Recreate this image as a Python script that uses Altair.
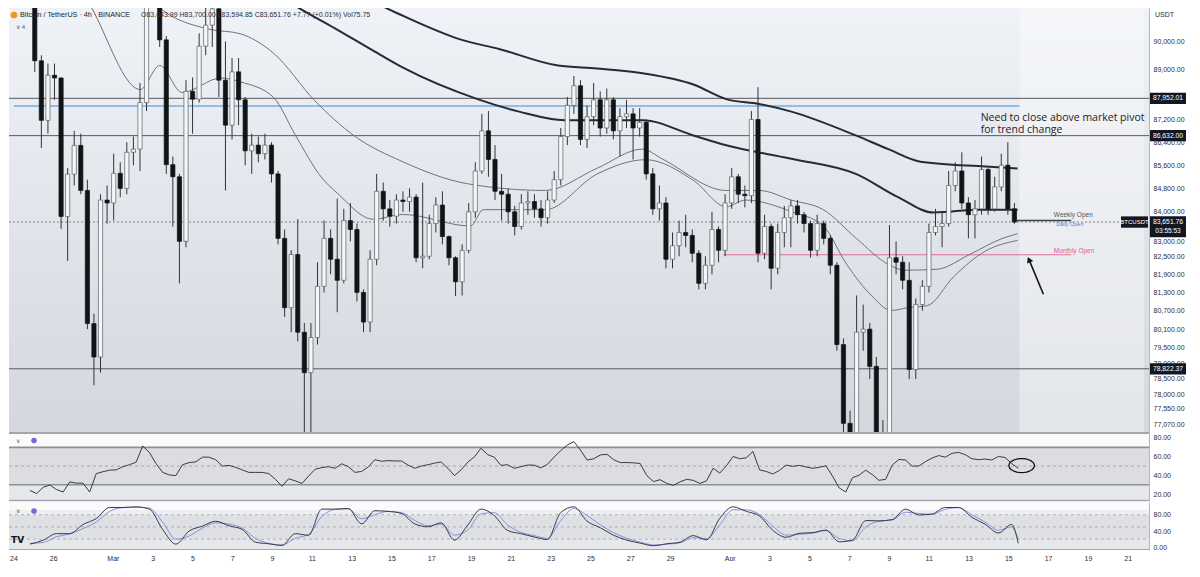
import math
import altair as alt
import pandas as pd

# ---------------- data ----------------
# 8h candles, first one centred on Feb 24 20:00; day offsets counted from Feb 24 00:00
opens = [92400, 89300, 87170, 88780, 88680, 83840, 85290, 86290, 84730, 80280,
         79200, 84400, 84300, 85320, 84800, 86050, 86160, 87800, 93500, 94200,
         90060, 85620, 85200, 83000, 88200, 87920, 89830, 90600, 91200, 88600,
         87000, 88900, 87900, 86100, 86300, 86000, 86300, 85300, 83100, 80800,
         82560, 80000, 78700, 79830, 81500, 83100, 82400, 81700, 83700, 83400,
         81300, 80330, 82400, 84700, 84100, 83850, 84400, 84350, 84500, 82450,
         82500, 83600, 84230, 83160, 82450, 81650, 82700, 84000, 85400, 86800,
         85800, 84700, 84600, 84000, 83500, 84300, 84350, 84100, 83800, 84400,
         85100, 86600, 87700, 88400, 86500, 87300, 87900, 86900, 87900, 86800,
         87300, 87400, 86900, 87100, 85300, 84100, 84300, 82400, 82850, 83300,
         83200, 82600, 81600, 82200, 83400, 82700, 84300, 85200, 84600, 84550,
         87200, 82600, 83500, 82100, 83300, 83800, 84200, 83900, 83600, 82700,
         83600, 83100, 82200, 79600, 77100, 76000, 80000, 80100, 78900, 76600,
         76200, 82450, 82300, 81700, 78800, 80900, 81500, 83300, 83500, 83600,
         84900, 85400, 84300, 83900, 84100, 85450, 84100, 84850, 85600, 84100]
highs = [92700, 89500, 89200, 89200, 88700, 85500, 86800, 86700, 85100, 80600,
         84600, 84900, 86000, 85700, 86400, 86600, 88500, 94000, 95000, 94400,
         90200, 85900, 85300, 88600, 88700, 90300, 91500, 91800, 92000, 90000,
         89400, 89400, 88000, 86700, 86600, 86700, 86400, 85400, 83400, 82700,
         83750, 80300, 80300, 82300, 83700, 83400, 84450, 84100, 84300, 83600,
         81400, 82700, 85300, 85000, 84400, 84600, 84700, 84800, 84600, 85000,
         83900, 84500, 84700, 83200, 82500, 82900, 84300, 85700, 87400, 87500,
         86300, 85300, 84800, 84200, 84600, 84700, 84600, 84400, 84700, 85400,
         86900, 88000, 88750, 88600, 87700, 88500, 88200, 88300, 88000, 87600,
         87900, 87600, 87600, 87200, 85500, 84900, 84500, 83300, 83700, 83900,
         83400, 82700, 82500, 84000, 83500, 84600, 85500, 85300, 84900, 87500,
         88350, 83900, 83600, 83600, 84200, 84400, 84400, 84000, 83700, 83900,
         83700, 83200, 82300, 79800, 77500, 81200, 80900, 80300, 79200, 77200,
         83550, 83000, 82500, 82300, 81100, 81700, 83600, 84100, 84000, 85400,
         85700, 86050, 84500, 84400, 85900, 85500, 85200, 86000, 86400, 84300]
lows = [88900, 86200, 86700, 87900, 83420, 82350, 84900, 84600, 80100, 78300,
        78700, 83600, 83700, 84500, 84600, 85600, 85400, 87500, 92500, 89800,
        85300, 83500, 81600, 82800, 86700, 87800, 89500, 89800, 88000, 84730,
        86500, 87000, 85600, 85300, 85700, 85800, 85000, 82900, 80500, 80000,
        79700, 76600, 76800, 79600, 81300, 81900, 80650, 81600, 83000, 81000,
        80000, 80000, 82200, 83700, 83500, 83600, 84000, 84000, 82300, 82100,
        82400, 83300, 82900, 82200, 81180, 81200, 82600, 83800, 85300, 85200,
        84400, 83700, 83600, 83200, 83400, 83900, 83800, 83500, 83600, 84300,
        84900, 86300, 87400, 86300, 86200, 87000, 86600, 86700, 86500, 85900,
        86900, 85800, 86600, 85100, 83900, 83700, 82100, 82100, 82500, 82800,
        82300, 81400, 81400, 81900, 82300, 82500, 84100, 84300, 84150, 84300,
        82300, 82400, 81400, 81900, 82800, 82800, 83600, 83300, 82450, 82500,
        82900, 81900, 79400, 76700, 74500, 75800, 79400, 78500, 76300, 75800,
        74600, 81900, 81400, 78500, 78500, 80700, 81300, 83200, 82800, 83500,
        84700, 84100, 83100, 83100, 83900, 83900, 84000, 84700, 83900, 83594.85]
closes = [89300, 87170, 88780, 88680, 83840, 85290, 86290, 84730, 80280, 79200,
          84400, 84300, 85320, 84800, 86050, 86160, 87800, 93500, 94200, 90060,
          85620, 85200, 83000, 88200, 87920, 89830, 90600, 91200, 88600, 87000,
          88900, 87900, 86100, 86300, 86000, 86300, 85300, 83100, 80800, 82560,
          80000, 78700, 79830, 81500, 83100, 82400, 81700, 83700, 83400, 81300,
          80330, 82400, 84700, 84100, 83850, 84400, 84350, 84500, 82450, 82500,
          83600, 84230, 83160, 82450, 81650, 82700, 84000, 85400, 86800, 85800,
          84700, 84600, 84000, 83500, 84300, 84350, 84100, 83800, 84400, 85100,
          86600, 87700, 88400, 86500, 87300, 87900, 86900, 87900, 86800, 87300,
          87400, 86900, 87100, 85300, 84100, 84300, 82400, 82850, 83300, 83200,
          82600, 81600, 82200, 83400, 82700, 84300, 85200, 84600, 84550, 87200,
          82600, 83500, 82100, 83300, 83800, 84200, 83900, 83600, 82700, 83600,
          83100, 82200, 79600, 77100, 76000, 80000, 80100, 78900, 76600, 76200,
          82450, 82300, 81700, 78800, 80900, 81500, 83300, 83500, 83600, 84900,
          85400, 84300, 83900, 84100, 85450, 84100, 84850, 85600, 84100, 83651.76]

rsi = [23.9, 20.5, 27.3, 29.7, 24.9, 22.2, 33.0, 31.7, 31.7, 22.2,
       41.9, 43.9, 45.6, 45.9, 49.3, 51.4, 54.1, 71.4, 64.6, 52.7,
       43.2, 40.5, 39.8, 51.4, 53.7, 54.4, 59.5, 59.5, 56.8, 50.0,
       50.7, 48.6, 45.9, 43.2, 43.2, 43.2, 41.9, 35.8, 28.3, 36.4,
       34.1, 31.4, 39.2, 46.6, 48.3, 49.3, 47.6, 52.4, 49.3, 43.2,
       44.2, 49.0, 56.8, 55.1, 55.8, 55.4, 55.4, 51.0, 47.6, 50.0,
       51.4, 53.1, 54.4, 47.6, 39.8, 45.9, 54.1, 59.8, 69.0, 62.2,
       59.5, 50.7, 51.4, 47.6, 49.3, 51.0, 51.0, 48.0, 51.7, 59.5,
       66.3, 72.4, 76.1, 67.0, 56.4, 57.8, 61.9, 62.5, 56.8, 53.7,
       53.7, 53.4, 52.7, 39.8, 33.4, 35.4, 31.4, 29.3, 33.0, 35.8,
       34.7, 31.4, 34.1, 47.6, 42.5, 50.3, 60.2, 57.8, 58.8, 65.6,
       45.9, 44.2, 41.5, 45.3, 51.0, 49.7, 50.7, 49.0, 47.6, 48.6,
       50.3, 39.2, 26.6, 22.2, 37.5, 40.2, 45.6, 40.8, 34.7, 35.8,
       51.0, 57.1, 56.4, 50.0, 50.0, 54.7, 58.5, 61.2, 59.5, 63.6,
       64.6, 62.2, 57.8, 56.8, 57.5, 56.4, 60.2, 59.2, 52.7, 47.6]

stoch_idx = list(range(0, 150, 2)) + [149]
stoch_k = [8.0, 17.6, 33.6, 33.6, 56.0, 70.4, 97.6, 97.6, 99.2, 93.6,
           44.0, 8.0, 40.0, 52.0, 64.0, 52.8, 44.0, 12.8, 8.8, 4.8,
           33.6, 29.6, 93.6, 93.6, 95.2, 57.6, 89.6, 88.0, 83.2, 57.6,
           50.4, 60.0, 17.6, 54.4, 93.6, 77.6, 41.6, 33.6, 25.6, 19.2,
           84.8, 99.2, 64.0, 48.0, 29.6, 17.6, 10.4, 4.0, 8.8, 12.8,
           28.8, 18.4, 71.2, 99.2, 88.0, 76.8, 41.6, 24.8, 34.4, 36.0,
           42.4, 13.6, 17.6, 65.6, 64.8, 68.0, 93.6, 79.2, 81.6, 97.6,
           97.6, 73.6, 56.8, 35.2, 56.0, 10.0]
stoch_d = [10, 12, 26, 33, 46, 62, 88, 97, 98, 96,
           62, 20, 28, 47, 60, 57, 47, 22, 10, 6,
           22, 32, 75, 93, 94, 70, 80, 88, 85, 66,
           53, 57, 30, 42, 82, 85, 55, 37, 29, 22,
           65, 95, 78, 55, 36, 22, 13, 6, 8, 11,
           24, 21, 55, 92, 92, 80, 52, 30, 32, 35,
           41, 22, 16, 50, 64, 67, 86, 83, 81, 93,
           97, 80, 62, 42, 50, 20]

# moving averages (day offset, price)
ma_a_day = [17.51, 18.64, 19.48, 22.44, 24.41, 27.36, 29.33, 31.65, 34.26, 35.89, 37.56, 39.19, 42.49, 44.11, 45.74, 49.04, 50.66]
ma_a = [91740, 91235, 90950, 90070, 89720, 89128, 89024, 88850, 88437, 87922, 87751, 87478, 86630, 86160, 85724, 85557, 85490]
ma_b_day = [13.08, 14.21, 16.03, 17.86, 19.48, 23.28, 25.39, 27.71, 31.65, 34.26, 35.89, 39.19, 42.49, 44.60, 46.42, 48.70, 50.66]
ma_b = [91740, 91235, 90491, 89720, 89058, 87922, 87478, 87172, 87172, 86630, 86293, 85824, 85291, 84498, 83974, 84072, 84072]
ema_c_day = [3.3, 3.72, 6.18, 7.17, 8.30, 10.27, 11.26, 12.93, 14.06, 15.39, 16.18, 18.00, 19.48, 22.93, 23.57, 26.72, 29.33,
             31.80, 34.26, 35.89, 36.87, 39.19, 40.81, 42.00, 43.28, 44.26, 45.10, 46.08, 47.41, 49.04, 50.66]
ema_c = [91800, 91235, 88265, 89128, 88162, 88678, 88540, 87990, 86630, 85160, 84630, 83746, 83909, 83518, 84072, 84072, 85291,
         85791, 85059, 84170, 84400, 84007, 83518, 82227, 81178, 80706, 80800, 80863, 81813, 82677, 83031]
ema_d_day = [6.5, 7.17, 9.63, 11.26, 12.93, 15.05, 17.02, 19.48, 22.78, 26.72, 29.33, 31.65, 32.63, 35.89, 37.56, 39.19, 40.81,
             42.49, 44.11, 44.95, 46.58, 48.20, 49.88, 50.66]
ema_d = [91700, 91235, 90456, 90281, 89580, 87853, 86630, 85724, 84959, 84729, 85491, 86160, 85824, 84729, 84729, 84400, 84072,
         83096, 82227, 82035, 82067, 82548, 83096, 83258]

price_ticks = [90000, 89000, 87200, 86400, 85600, 84800, 84000, 83000, 82500, 81900,
               81300, 80700, 80100, 79500, 79000, 78500, 78000, 77550, 77070]
tick_days = [0, 2, 5, 7, 9, 11, 13, 15, 17, 19, 21, 23, 25, 27, 29, 31, 33, 36, 38, 40, 42, 44, 46, 48, 50, 52, 54, 56]
tick_labels = ['24', '26', 'Mar', '3', '5', '7', '9', '11', '13', '15', '17', '19', '21', '23', '25', '27', '29',
               'Apr', '3', '5', '7', '9', '11', '13', '15', '17', '19', '21']

level_prices = [87952.01, 86632.00, 78822.37]
pivot_blue = 87680
last_price = 83651.76
weekly_open = 83700
monthly_open = 82550
tag_prices = [87952.01, 86632.00, 83651.76, 78822.37]
tag_texts = ['87,952.01', '86,632.00', '83,651.76', '78,822.37']

# ---------------- layout ----------------
W, H1, H2, H3 = 1140, 424, 69, 48
X0, X1 = -0.22, 57.07
PLO, PHI = 76830, 91230
FONT = 'Liberation Sans'

xsc = alt.Scale(domain=[X0, X1], nice=False, zero=False)
psc = alt.Scale(type='log', domain=[PLO, PHI], nice=False)
rsc = alt.Scale(domain=[12.6, 86.4], nice=False, zero=False)
ssc = alt.Scale(domain=[-6.4, 111], nice=False, zero=False)

def yaxis(vals):
    return alt.Axis(orient='right', values=vals, format=',.2f', labelFontSize=7, labelFont=FONT,
                    labelColor='#2a2e39', ticks=False, domain=True, domainColor='#b4b7bd',
                    grid=False, labelPadding=4, title=None, labelOverlap=False)

paxis = yaxis(price_ticks)
raxis = yaxis([80, 60, 40, 20])
saxis = yaxis([80, 40, 0])

lab_expr = "[" + ",".join(f"'{t}'" for t in tick_labels) + "][indexof([" + ",".join(str(d) for d in tick_days) + "], datum.value)]"
xaxis = alt.Axis(values=tick_days, labelExpr=lab_expr, labelFontSize=7, labelFont=FONT, labelColor='#2a2e39',
                 ticks=False, domain=False, grid=False, labelPadding=4, title=None)

def X(field, axis=None):
    if axis is None:
        return alt.X(f'{field}:Q', scale=xsc, axis=None)
    return alt.X(f'{field}:Q', scale=xsc, axis=axis)

def PY(field):
    return alt.Y(f'{field}:Q', scale=psc, axis=paxis)

def RY(field):
    return alt.Y(f'{field}:Q', scale=rsc, axis=raxis)

def SY(field):
    return alt.Y(f'{field}:Q', scale=ssc, axis=saxis)

days = [0.8333 + i / 3 for i in range(len(closes))]
candles = pd.DataFrame({'day': days, 'open': opens, 'high': highs, 'low': lows, 'close': closes})
candles['dir'] = ['up' if c >= o else 'down' for o, c in zip(opens, closes)]

one = pd.DataFrame({'a': [0]})

def ptext(txt, x, y, size=7.5, color='#1f2329', weight='normal', align='left', font=FONT):
    return alt.Chart(pd.DataFrame({'t': [txt]})).mark_text(
        align=align, baseline='middle', fontSize=size, font=font, color=color, fontWeight=weight
    ).encode(x=alt.value(x), y=alt.value(y), text='t:N')

# ---------------- price pane ----------------
bg = alt.Chart(one).mark_rect(color=alt.Gradient(
    gradient='linear', x1=0, x2=0, y1=0, y2=1,
    stops=[alt.GradientStop(color='#eff2f7', offset=0), alt.GradientStop(color='#d4d8de', offset=1)]
)).encode(x=alt.value(0), x2=alt.value(W), y=alt.value(0), y2=alt.value(H1))

future = alt.Chart(pd.DataFrame({'d0': [50.76], 'd1': [X1]})).mark_rect(color='white', opacity=0.35).encode(
    x=X('d0'), x2='d1', y=alt.value(0), y2=alt.value(H1))

levels = alt.Chart(pd.DataFrame({'p': level_prices})).mark_rule(color='#555a63', strokeWidth=1, clip=True).encode(
    y=PY('p'), x=alt.value(0), x2=alt.value(W))

blue = alt.Chart(pd.DataFrame({'p': [pivot_blue], 'd0': [X0], 'd1': [50.76]})).mark_rule(
    color='#76aee3', strokeWidth=1.6, clip=True).encode(y=PY('p'), x=X('d0'), x2='d1')

lastline = alt.Chart(pd.DataFrame({'p': [last_price]})).mark_rule(
    color='#7d8088', strokeWidth=1, strokeDash=[2, 2], clip=True).encode(y=PY('p'), x=alt.value(0), x2=alt.value(W))

weekly = alt.Chart(pd.DataFrame({'p': [weekly_open], 'd0': [50.62], 'd1': [53.38]})).mark_rule(
    color='#3d4048', strokeWidth=1.5, clip=True).encode(y=PY('p'), x=X('d0'), x2='d1')

monthly = alt.Chart(pd.DataFrame({'p': [monthly_open], 'd0': [35.74], 'd1': [53.38]})).mark_rule(
    color='#e46a9e', strokeWidth=1, clip=True).encode(y=PY('p'), x=X('d0'), x2='d1')

thin_df = pd.concat([
    pd.DataFrame({'day': ema_c_day, 'p': ema_c, 's': 'c'}),
    pd.DataFrame({'day': ema_d_day, 'p': ema_d, 's': 'd'}),
])
thick_df = pd.concat([
    pd.DataFrame({'day': ma_a_day, 'p': ma_a, 's': 'a'}),
    pd.DataFrame({'day': ma_b_day, 'p': ma_b, 's': 'b'}),
])
thin = alt.Chart(thin_df).mark_line(color='#6f727a', strokeWidth=1, interpolate='monotone', clip=True).encode(
    x=X('day'), y=PY('p'), detail='s:N')
thick = alt.Chart(thick_df).mark_line(color='#262a33', strokeWidth=2, interpolate='monotone', clip=True).encode(
    x=X('day'), y=PY('p'), detail='s:N')

wicks = alt.Chart(candles).mark_rule(color='#30333a', strokeWidth=1, clip=True).encode(
    x=X('day'), y=PY('low'), y2='high')
bodies = alt.Chart(candles).mark_bar(size=4.2, strokeWidth=0.7, clip=True).encode(
    x=X('day'), y=PY('open'), y2='close',
    fill=alt.Fill('dir:N', scale=alt.Scale(domain=['up', 'down'], range=['#f5f6f8', '#121316']), legend=None),
    stroke=alt.Stroke('dir:N', scale=alt.Scale(domain=['up', 'down'], range=['#5c5f66', '#121316']), legend=None))

note_df = pd.DataFrame({'day': [48.79, 48.79], 'p': [87250, 86840],
                        't': ['Need to close above market pivot', 'for trend change']})
note = alt.Chart(note_df).mark_text(align='left', baseline='middle', fontSize=10.5, font='Open Sans',
                                    color='#1e2026').encode(x=X('day'), y=PY('p'), text='t:N')

lvl_txt_df = pd.DataFrame({'day': [52.5, 52.62, 52.5], 'p': [83900, 83600, 82660],
                           't': ['Weekly Open', 'Daily Open', 'Monthly Open'],
                           'c': ['#50535a', '#4e7ce0', '#e05a93'],
                           's': [6.5, 5.5, 6.5]})
lvl_txt = alt.Chart(lvl_txt_df).mark_text(align='left', baseline='middle', font=FONT).encode(
    x=X('day'), y=PY('p'), text='t:N', color=alt.Color('c:N', scale=None),
    size=alt.Size('s:Q', scale=None, legend=None))

arrow_df = pd.DataFrame({'d0': [51.97], 'p0': [81240], 'd1': [51.24], 'p1': [82388]})
arrow = alt.Chart(arrow_df).mark_rule(color='#15161a', strokeWidth=1.6).encode(
    x=X('d0'), y=PY('p0'), x2='d1', y2='p1')
arrow_head = alt.Chart(arrow_df).mark_point(shape='triangle-up', size=45, filled=True, color='#15161a',
                                            angle=337, opacity=1).encode(x=X('d1'), y=PY('p1'))

tag_df = pd.DataFrame({'p': tag_prices, 't': tag_texts})
tag_df['top'] = tag_df['p'] * 1.0023
tag_df['bot'] = [p / (1.0062 if p == last_price else 1.0023) for p in tag_prices]
tags = alt.Chart(tag_df).mark_rect(color='#131722').encode(
    x=alt.value(W + 1), x2=alt.value(W + 37), y=PY('top'), y2='bot')
tag_txt = alt.Chart(tag_df).mark_text(color='white', fontSize=6.8, font=FONT, align='center', baseline='middle').encode(
    x=alt.value(W + 19), y=PY('p'), text='t:N')
timer_df = pd.DataFrame({'p': [last_price / 1.0038], 't': ['03:55:53']})
timer = alt.Chart(timer_df).mark_text(color='white', fontSize=6.5, font=FONT, align='center', baseline='middle').encode(
    x=alt.value(W + 19), y=PY('p'), text='t:N')
sym_df = pd.DataFrame({'top': [last_price * 1.0023], 'bot': [last_price / 1.0023], 'p': [last_price], 't': ['BTCUSDT']})
sym = alt.Chart(sym_df).mark_rect(color='#131722').encode(
    x=alt.value(W - 28), x2=alt.value(W - 1), y=PY('top'), y2='bot')
sym_txt = alt.Chart(sym_df).mark_text(color='white', fontSize=6, font=FONT, align='center', baseline='middle').encode(
    x=alt.value(W - 14.5), y=PY('p'), text='t:N')

coin = alt.Chart(one).mark_point(filled=True, color='#f7931a', size=45, shape='circle', opacity=1).encode(
    x=alt.value(5), y=alt.value(7))
head1 = ptext('Bitcoin / TetherUS · 4h · BINANCE', 11, 7, size=7.2, color='#1c1f26')
head2 = ptext('O83,643.99  H83,700.00  L83,594.85  C83,651.76  +7.77 (+0.01%)  Vol75.75', 132, 7, size=7, color='#2d3036')
head3 = ptext('∨  4', 7, 19, size=6, color='#555')
usdt = ptext('USDT', W + 6, 7, size=7, color='#2a2e39')

price = alt.layer(bg, future, levels, blue, monthly, lastline, weekly, thin, thick, wicks, bodies,
                  note, lvl_txt, arrow, arrow_head, tags, tag_txt, timer, sym, sym_txt,
                  coin, head1, head2, head3, usdt).properties(width=W, height=H1)

# ---------------- RSI pane ----------------
rsi_df = pd.DataFrame({'day': days, 'v': rsi})
rbands = alt.Chart(pd.DataFrame({'lo': [12.6, 30, 70], 'hi': [30, 70, 86.4],
                                 'c': ['#e6e7ea', '#dcdde1', '#fbfbfc']})).mark_rect().encode(
    x=alt.value(0), x2=alt.value(W), y=RY('lo'), y2='hi', color=alt.Color('c:N', scale=None))
rlines = alt.Chart(pd.DataFrame({'v': [70, 30]})).mark_rule(color='#8d9096', strokeWidth=1.6).encode(
    y=RY('v'), x=alt.value(0), x2=alt.value(W))
rmid = alt.Chart(pd.DataFrame({'v': [50]})).mark_rule(color='#9a9ca1', strokeWidth=0.8, strokeDash=[3, 3]).encode(
    y=RY('v'), x=alt.value(0), x2=alt.value(W))
rline = alt.Chart(rsi_df).mark_line(color='#3a3b40', strokeWidth=1, clip=True).encode(x=X('day'), y=RY('v'))
ell_pts = [(math.cos(2 * math.pi * k / 32), 0.55 * math.sin(2 * math.pi * k / 32)) for k in range(32)]
ell_path = 'M' + ' L'.join(f'{a:.3f},{b:.3f}' for a, b in ell_pts) + ' Z'
ellipse = alt.Chart(pd.DataFrame({'day': [50.67], 'v': [50.5]})).mark_point(
    shape=ell_path, size=650, filled=False, color='#111', strokeWidth=1.3, opacity=1).encode(x=X('day'), y=RY('v'))
rtop = alt.Chart(one).mark_rule(color='#a3a6ac', strokeWidth=2).encode(x=alt.value(0), x2=alt.value(W), y=alt.value(1))
rbot = alt.Chart(one).mark_rule(color='#a3a6ac', strokeWidth=1.5).encode(x=alt.value(0), x2=alt.value(W), y=alt.value(H2 - 0.5))
ricon1 = ptext('∨', 9, 8.5, size=6, color='#555', align='center')
ricon2 = alt.Chart(one).mark_point(filled=True, color='#7a62d8', size=30, opacity=1).encode(x=alt.value(25), y=alt.value(8.5))
rsi_c = alt.layer(rbands, rlines, rmid, rline, ellipse, rtop, rbot, ricon1, ricon2).properties(width=W, height=H2)

# ---------------- Stoch pane ----------------
st_days = [days[i] for i in stoch_idx]
st_df = pd.concat([
    pd.DataFrame({'day': st_days, 'v': stoch_d, 's': 'd'}),
    pd.DataFrame({'day': st_days, 'v': stoch_k, 's': 'k'}),
])
sbands = alt.Chart(pd.DataFrame({'lo': [-6.4, 20, 80, 92], 'hi': [20, 80, 92, 111],
                                 'c': ['#e7e8eb', '#dfe0e4', '#eeeff2', '#fbfbfc']})).mark_rect().encode(
    x=alt.value(0), x2=alt.value(W), y=SY('lo'), y2='hi', color=alt.Color('c:N', scale=None))
sdash = alt.Chart(pd.DataFrame({'v': [80, 50, 20]})).mark_rule(color='#a0a2a8', strokeWidth=0.8, strokeDash=[3, 3]).encode(
    y=SY('v'), x=alt.value(0), x2=alt.value(W))
slines = alt.Chart(st_df).mark_line(strokeWidth=1, interpolate='monotone', clip=True).encode(
    x=X('day', xaxis), y=SY('v'),
    color=alt.Color('s:N', scale=alt.Scale(domain=['d', 'k'], range=['#8b8de0', '#383b48']), legend=None))
sbot = alt.Chart(one).mark_rule(color='#a3a6ac', strokeWidth=1).encode(x=alt.value(0), x2=alt.value(W), y=alt.value(H3 - 0.5))
sicon1 = ptext('∨', 9, 9, size=6, color='#555', align='center')
sicon2 = alt.Chart(one).mark_point(filled=True, color='#7a62d8', size=30, opacity=1).encode(x=alt.value(25), y=alt.value(9))
tv = ptext('TV', 2, 38, size=9, color='#111', weight='bold', font='DejaVu Sans')
stoch_c = alt.layer(sbands, sdash, slines, sbot, sicon1, sicon2, tv).properties(width=W, height=H3)

chart = alt.vconcat(price, rsi_c, stoch_c, spacing=0).properties(
    padding=0, background='white'
).configure_view(stroke=None)

chart.save('out.html', embed_options={'renderer': 'svg', 'actions': False})
